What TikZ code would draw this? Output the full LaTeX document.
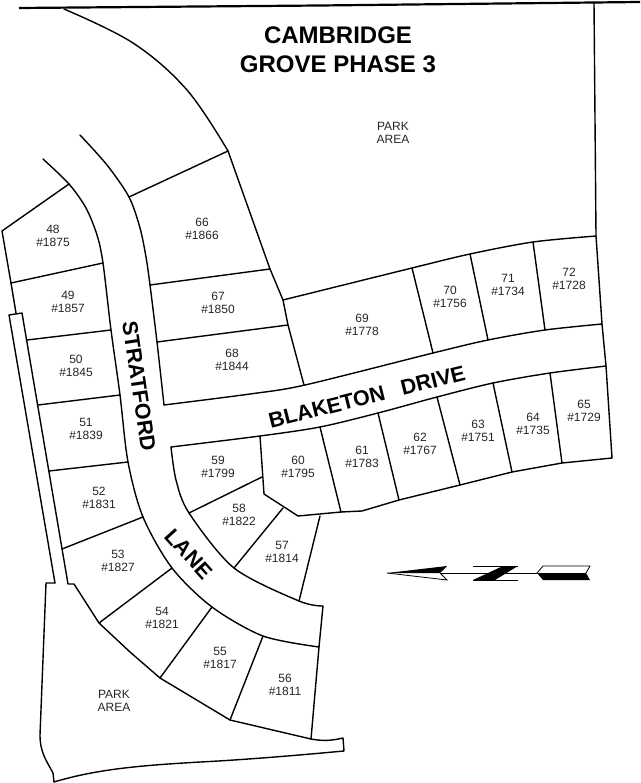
\documentclass[tikz,border=0pt]{standalone}
\usepackage{fontspec}
\setmainfont{Liberation Sans}
\tikzset{
  plan/.style={line width=1.4pt,line join=round,line cap=round},
  lot/.style={font=\fontsize{12}{12.8}\selectfont,align=center,inner sep=0pt,text=black!85},
  title/.style={font=\fontsize{24}{28.5}\selectfont\bfseries,align=center,inner sep=0pt},
  road/.style={font=\fontsize{21.5}{24}\selectfont\bfseries,inner sep=0pt},
}
\begin{document}
\begin{tikzpicture}[x=1pt,y=-1pt]
\useasboundingbox (0,0) rectangle (640,783);
\fill[white] (0,0) rectangle (640,783);
% top boundary and east boundary
\draw[line width=2.2pt] (19,8) -- (320,5.5) -- (640,2);
\draw[plan] (594,3) -- (596,236) -- (602,324) -- (606,366) -- (612,458);
% park curve and east line of lots 66-68
\draw[plan] plot[smooth,tension=.6] coordinates {(64,9) (133,43) (187,90) (228,151)};
\draw[plan] (228,151) -- (270,269) -- (283,300) -- (288,325) -- (304,385);
% Stratford east edge
\draw[plan] plot[smooth,tension=.5] coordinates {(80,135) (107,165) (129,197) (140,228) (146,257) (150,285) (157,342) (164,405)};
% Stratford west edge and Lane north-west edge
\draw[plan] plot[smooth,tension=.5] coordinates {(43,159) (69,184) (86,208) (97,235) (103,263) (111,330) (120,395) (128,462) (143,517) (172,568) (212,607) (263,636) (319,647)};
% Lane inner edge
\draw[plan] plot[smooth,tension=.5] coordinates {(171,447) (176,480) (189,513) (234,568) (299,601) (323,606)};
\draw[plan] (323,606) -- (319,647) -- (311,739);
% Blaketon north edge
\draw[plan] plot[smooth,tension=.5] coordinates {(164,405) (250,394) (305,385) (433,353) (488,340) (545,330) (602,324)};
% Blaketon south edge
\draw[plan] plot[smooth,tension=.5] coordinates {(606,366) (550,373) (493,383) (437,397) (378,413) (320,427) (260,436) (171,447)};
% north boundary of lots 69-72
\draw[plan] plot[smooth,tension=.5] coordinates {(283,300) (412,268) (470,254) (533,242) (596,236)};
% lots 69-72 dividers
\draw[plan] (412,268) -- (433,353);
\draw[plan] (470,254) -- (488,340);
\draw[plan] (533,242) -- (545,330);
% lots 60-65
\draw[plan] (260,436) -- (264,494) -- (298,516) -- (341,512) -- (362,511) -- (399,500) -- (460,485) -- (512,472) -- (562,463) -- (612,458);
\draw[plan] (320,427) -- (341,512);
\draw[plan] (378,413) -- (399,500);
\draw[plan] (437,397) -- (460,485);
\draw[plan] (493,383) -- (512,472);
\draw[plan] (550,373) -- (562,463);
% lots 57-59
\draw[plan] (189,513) -- (262,477);
\draw[plan] (234,568) -- (283,508);
\draw[plan] (320,516) -- (299,601);
% lots 66-68 dividers
\draw[plan] (228,151) -- (129,197);
\draw[plan] (150,285) -- (270,269);
\draw[plan] (157,342) -- (288,325);
% west lots
\draw[plan] (69,184) -- (2,231) -- (11,283) -- (16,313);
\draw[plan] (11,283) -- (103,263);
\draw[plan] (27,340) -- (111,330);
\draw[plan] (38,405) -- (120,395);
\draw[plan] (49,471) -- (128,462);
\draw[plan] (62,549) -- (143,517);
\draw[plan] (99,623) -- (172,568);
\draw[plan] (160,678) -- (212,607);
\draw[plan] (230,720) -- (263,636);
% strip and south park
\draw[plan] (55,583) -- (9,315) -- (22,313) -- (68,584) -- (74,584) -- (99,623) -- (130,652) -- (160,678) -- (230,720) -- (311,739);
\draw[plan] (311,739) .. controls (322,741) and (330,741) .. (343,738) -- (344,751) .. controls (290,756) and (240,760) .. (200,762) .. controls (150,765) and (100,768) .. (54,782) -- (53,773) .. controls (46,760) and (40,752) .. (40,735) -- (46,583) -- (55,583);
% labels
\node[title] (ttl) at (338,50) {CAMBRIDGE\\GROVE PHASE 3};
\node[lot] (pk1) at (393,133) {PARK\\AREA};
\node[lot] (pk2) at (114,701) {PARK\\AREA};
\node[lot] (l48) at (53,236) {48\\\#1875};
\node[lot] (l49) at (68,302) {49\\\#1857};
\node[lot] (l50) at (76,366) {50\\\#1845};
\node[lot] (l51) at (86,429) {51\\\#1839};
\node[lot] (l52) at (99,498) {52\\\#1831};
\node[lot] (l53) at (118,561) {53\\\#1827};
\node[lot] (l54) at (162,618) {54\\\#1821};
\node[lot] (l55) at (220,658) {55\\\#1817};
\node[lot] (l56) at (285,685) {56\\\#1811};
\node[lot] (l57) at (282,552) {57\\\#1814};
\node[lot] (l58) at (239,515) {58\\\#1822};
\node[lot] (l59) at (218,467) {59\\\#1799};
\node[lot] (l60) at (298,467) {60\\\#1795};
\node[lot] (l61) at (362,457) {61\\\#1783};
\node[lot] (l62) at (420,444) {62\\\#1767};
\node[lot] (l63) at (478,431) {63\\\#1751};
\node[lot] (l64) at (533,424) {64\\\#1735};
\node[lot] (l65) at (584,411) {65\\\#1729};
\node[lot] (l66) at (202,229) {66\\\#1866};
\node[lot] (l67) at (218,303) {67\\\#1850};
\node[lot] (l68) at (232,360) {68\\\#1844};
\node[lot] (l69) at (362,325) {69\\\#1778};
\node[lot] (l70) at (450,297) {70\\\#1756};
\node[lot] (l71) at (508,285) {71\\\#1734};
\node[lot] (l72) at (569,279) {72\\\#1728};
\node[road,rotate=-81.5] (str) at (139,386) {STRATFORD};
\node[road,rotate=-48] (lan) at (189,554) {LANE};
\node[road,rotate=14] (bla) at (367,397) {BLAKETON\hspace{17pt}DRIVE};
% north arrow
\draw[line width=.8pt] (440,573) -- (537,573);
\fill (387,573) -- (447,566) -- (440,573) -- cycle;
\draw[line width=.8pt] (387,573) -- (447,580) -- (440,573);
\fill (473,580) -- (503,566) -- (518,566) -- (495,580) -- cycle;
\draw[line width=.8pt] (473,566) -- (518,566);
\draw[line width=.8pt] (473,580) -- (518,580);
\draw[line width=.8pt] (537,573) -- (543,566) -- (590,566) -- (586,573);
\fill (537,573) -- (586,573) -- (590,580) -- (543,580) -- cycle;
\end{tikzpicture}
\end{document}
